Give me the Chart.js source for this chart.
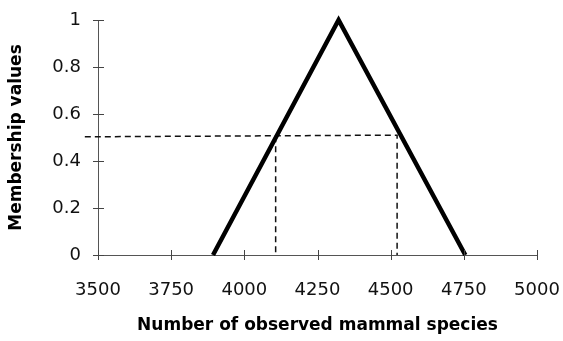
<!DOCTYPE html>
<html>
<head>
<meta charset="utf-8">
<script src="https://cdn.jsdelivr.net/npm/chart.js@4/dist/chart.umd.min.js"></script>
<style>
  html, body { margin: 0; padding: 0; background: #fff; }
  #wrap { width: 563px; height: 341px; }
</style>
</head>
<body>
<div id="wrap"><canvas id="canvas"></canvas></div>
<script>
// membership function (triangle)
var triX = [3893, 4322, 4755];
var triY = [0, 1, 0];
// dashed cut at ~0.5
var cutX = [3455, 4522, 4522];
var cutY = [0.503, 0.51, 0];
var dropX = [4107, 4107];
var dropY = [0.505, 0];
var xTicks = [3500, 3750, 4000, 4250, 4500, 4750, 5000];
var yTicks = [0, 0.2, 0.4, 0.6, 0.8, 1];

function pts(xs, ys) {
    var out = [];
    for (var i = 0; i < xs.length; i++) out.push({x: xs[i], y: ys[i]});
    return out;
}

var tickFont = {family: "DejaVu Sans", size: 18};
var titleFont = {family: "DejaVu Sans", size: 17, weight: "bold"};

// small crossing tick marks on both axes
var crossTicks = {
    id: "crossTicks",
    afterDraw: function(chart) {
        var ctx = chart.ctx, xs = chart.scales.x, ys = chart.scales.y;
        var area = chart.chartArea;
        ctx.save();
        ctx.strokeStyle = "#444";
        ctx.lineWidth = 1;
        ctx.beginPath();
        xTicks.forEach(function(v) {
            var px = Math.round(xs.getPixelForValue(v)) + 0.5;
            ctx.moveTo(px, area.bottom - 5);
            ctx.lineTo(px, area.bottom + 5);
        });
        yTicks.forEach(function(v) {
            var py = Math.round(ys.getPixelForValue(v)) + 0.5;
            ctx.moveTo(area.left - 5, py);
            ctx.lineTo(area.left + 6, py);
        });
        ctx.stroke();
        ctx.restore();
    }
};

new Chart("canvas", {
    type: "scatter",
    data: {
        datasets: [{
            data: pts(triX, triY),
            showLine: true,
            borderColor: "#000",
            borderWidth: 4.5,
            pointRadius: 0,
            borderJoinStyle: "miter",
            clip: false
        }, {
            data: pts(cutX, cutY),
            showLine: true,
            borderColor: "#111",
            borderWidth: 1.5,
            borderDash: [6, 4],
            pointRadius: 0,
            clip: false
        }, {
            data: pts(dropX, dropY),
            showLine: true,
            borderColor: "#111",
            borderWidth: 1.5,
            borderDash: [6, 4],
            pointRadius: 0,
            clip: false
        }]
    },
    options: {
        responsive: true,
        maintainAspectRatio: false,
        animation: false,
        layout: {padding: {top: 20, right: 26, left: 0, bottom: 0}},
        plugins: {legend: {display: false}, tooltip: {enabled: false}},
        scales: {
            x: {
                type: "linear",
                min: 3500,
                max: 5000,
                afterBuildTicks: function(s) { s.ticks = xTicks.map(function(v) { return {value: v}; }); },
                afterFit: function(s) { s.height = 86; s.paddingLeft = 0; s.paddingRight = 0; },
                grid: {drawOnChartArea: false, drawTicks: false},
                border: {color: "#555", width: 1},
                ticks: {color: "#111", font: tickFont, padding: 25, maxRotation: 0,
                        callback: function(v) { return String(v); }},
                title: {display: true, text: "Number of observed mammal species", color: "#000",
                        font: titleFont, padding: {top: 0, bottom: 5}}
            },
            y: {
                min: 0,
                max: 1,
                afterBuildTicks: function(s) { s.ticks = yTicks.map(function(v) { return {value: v}; }); },
                afterFit: function(s) { s.width = 98; s.paddingTop = 0; s.paddingBottom = 0; },
                grid: {drawOnChartArea: false, drawTicks: false},
                border: {color: "#555", width: 1},
                ticks: {color: "#111", font: tickFont, padding: 17,
                        callback: function(v) { return String(v); }},
                title: {display: true, text: "Membership values", color: "#000",
                        font: titleFont, padding: {top: 6, bottom: 0}}
            }
        }
    },
    plugins: [crossTicks]
});
</script>
</body>
</html>
